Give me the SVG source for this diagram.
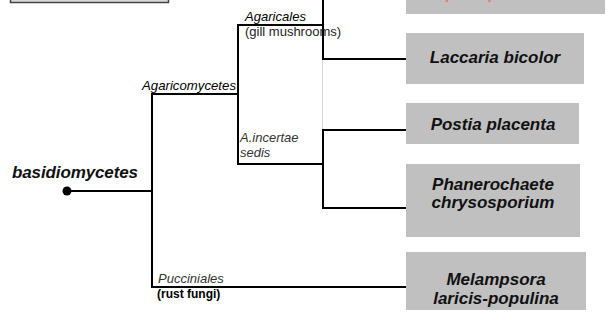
<svg xmlns="http://www.w3.org/2000/svg" width="607" height="322" viewBox="0 0 607 322">
<style>
.ln{stroke:#000;stroke-width:2;fill:none;stroke-linecap:square}
.faint{stroke:#d8d8d8;stroke-width:1;fill:none}
.box{fill:#c0c0c0}
.sp{font-family:"Liberation Sans",Arial,sans-serif;font-weight:bold;font-style:italic;font-size:17px;fill:#111;text-anchor:middle}
.cl{font-family:"Liberation Sans",Arial,sans-serif;font-style:italic;font-size:13px;fill:#000}
.gr{font-family:"Liberation Sans",Arial,sans-serif;font-style:italic;font-size:13px;fill:#333}
.nt{font-family:"Liberation Sans",Arial,sans-serif;font-size:13px;fill:#222}
</style>
<g id="legend-box"><rect x="10.5" y="-12" width="158" height="14.5" fill="#d9d9d9" stroke="#444" stroke-width="1.5"/></g>
<g id="connectors">
<circle cx="67" cy="191" r="4.5" fill="#000"/>
<path class="ln" d="M67 191H152"/>
<path class="ln" d="M152 94V287"/>
<path class="ln" d="M152 94H238"/>
<path class="ln" d="M238 25V164"/>
<path class="ln" d="M238 25H323"/>
<path class="ln" d="M323 0V59H406"/>
<path class="faint" d="M322.5 60V129"/>
<path class="ln" d="M238 164H323"/>
<path class="ln" d="M323 130V208"/>
<path class="ln" d="M323 130H406"/>
<path class="ln" d="M323 208H406"/>
<path class="ln" d="M152 287H406"/>
</g>
<g id="coprinopsis"><rect class="box" x="406" y="-20" width="199" height="34"/><text class="sp" x="505" y="-1" style="fill:#f07878">Coprinopsis cinerea</text></g>
<g id="laccaria"><rect class="box" x="406" y="33" width="178" height="51"/><text class="sp" x="495" y="63">Laccaria bicolor</text></g>
<g id="postia"><rect class="box" x="406" y="103" width="173" height="41"/><text class="sp" x="493" y="130">Postia placenta</text></g>
<g id="phanerochaete"><rect class="box" x="406" y="164" width="174" height="73"/><text class="sp" x="493" y="190">Phanerochaete</text><text class="sp" x="493" y="208">chrysosporium</text></g>
<g id="melampsora"><rect class="box" x="406" y="252" width="180" height="58"/><text class="sp" x="496" y="285">Melampsora</text><text class="sp" x="496" y="304">laricis-populina</text></g>
<g id="basidiomycetes"><text x="12" y="178" font-family="Liberation Sans, Arial, sans-serif" font-weight="bold" font-style="italic" font-size="17" fill="#111" textLength="126">basidiomycetes</text></g>
<g id="agaricomycetes"><text class="cl" x="142" y="90" textLength="94" lengthAdjust="spacingAndGlyphs">Agaricomycetes</text></g>
<g id="agaricales"><text class="cl" x="245" y="21" textLength="61" lengthAdjust="spacingAndGlyphs">Agaricales</text><text class="nt" x="245" y="36">(gill mushrooms)</text></g>
<g id="incertae"><text class="gr" x="240" y="142">A.incertae</text><text class="gr" x="240" y="157">sedis</text></g>
<g id="pucciniales"><text class="gr" x="158" y="283">Pucciniales</text><text x="157" y="298" font-family="Liberation Sans, Arial, sans-serif" font-weight="bold" font-size="12" fill="#000">(rust fungi)</text></g>
</svg>
